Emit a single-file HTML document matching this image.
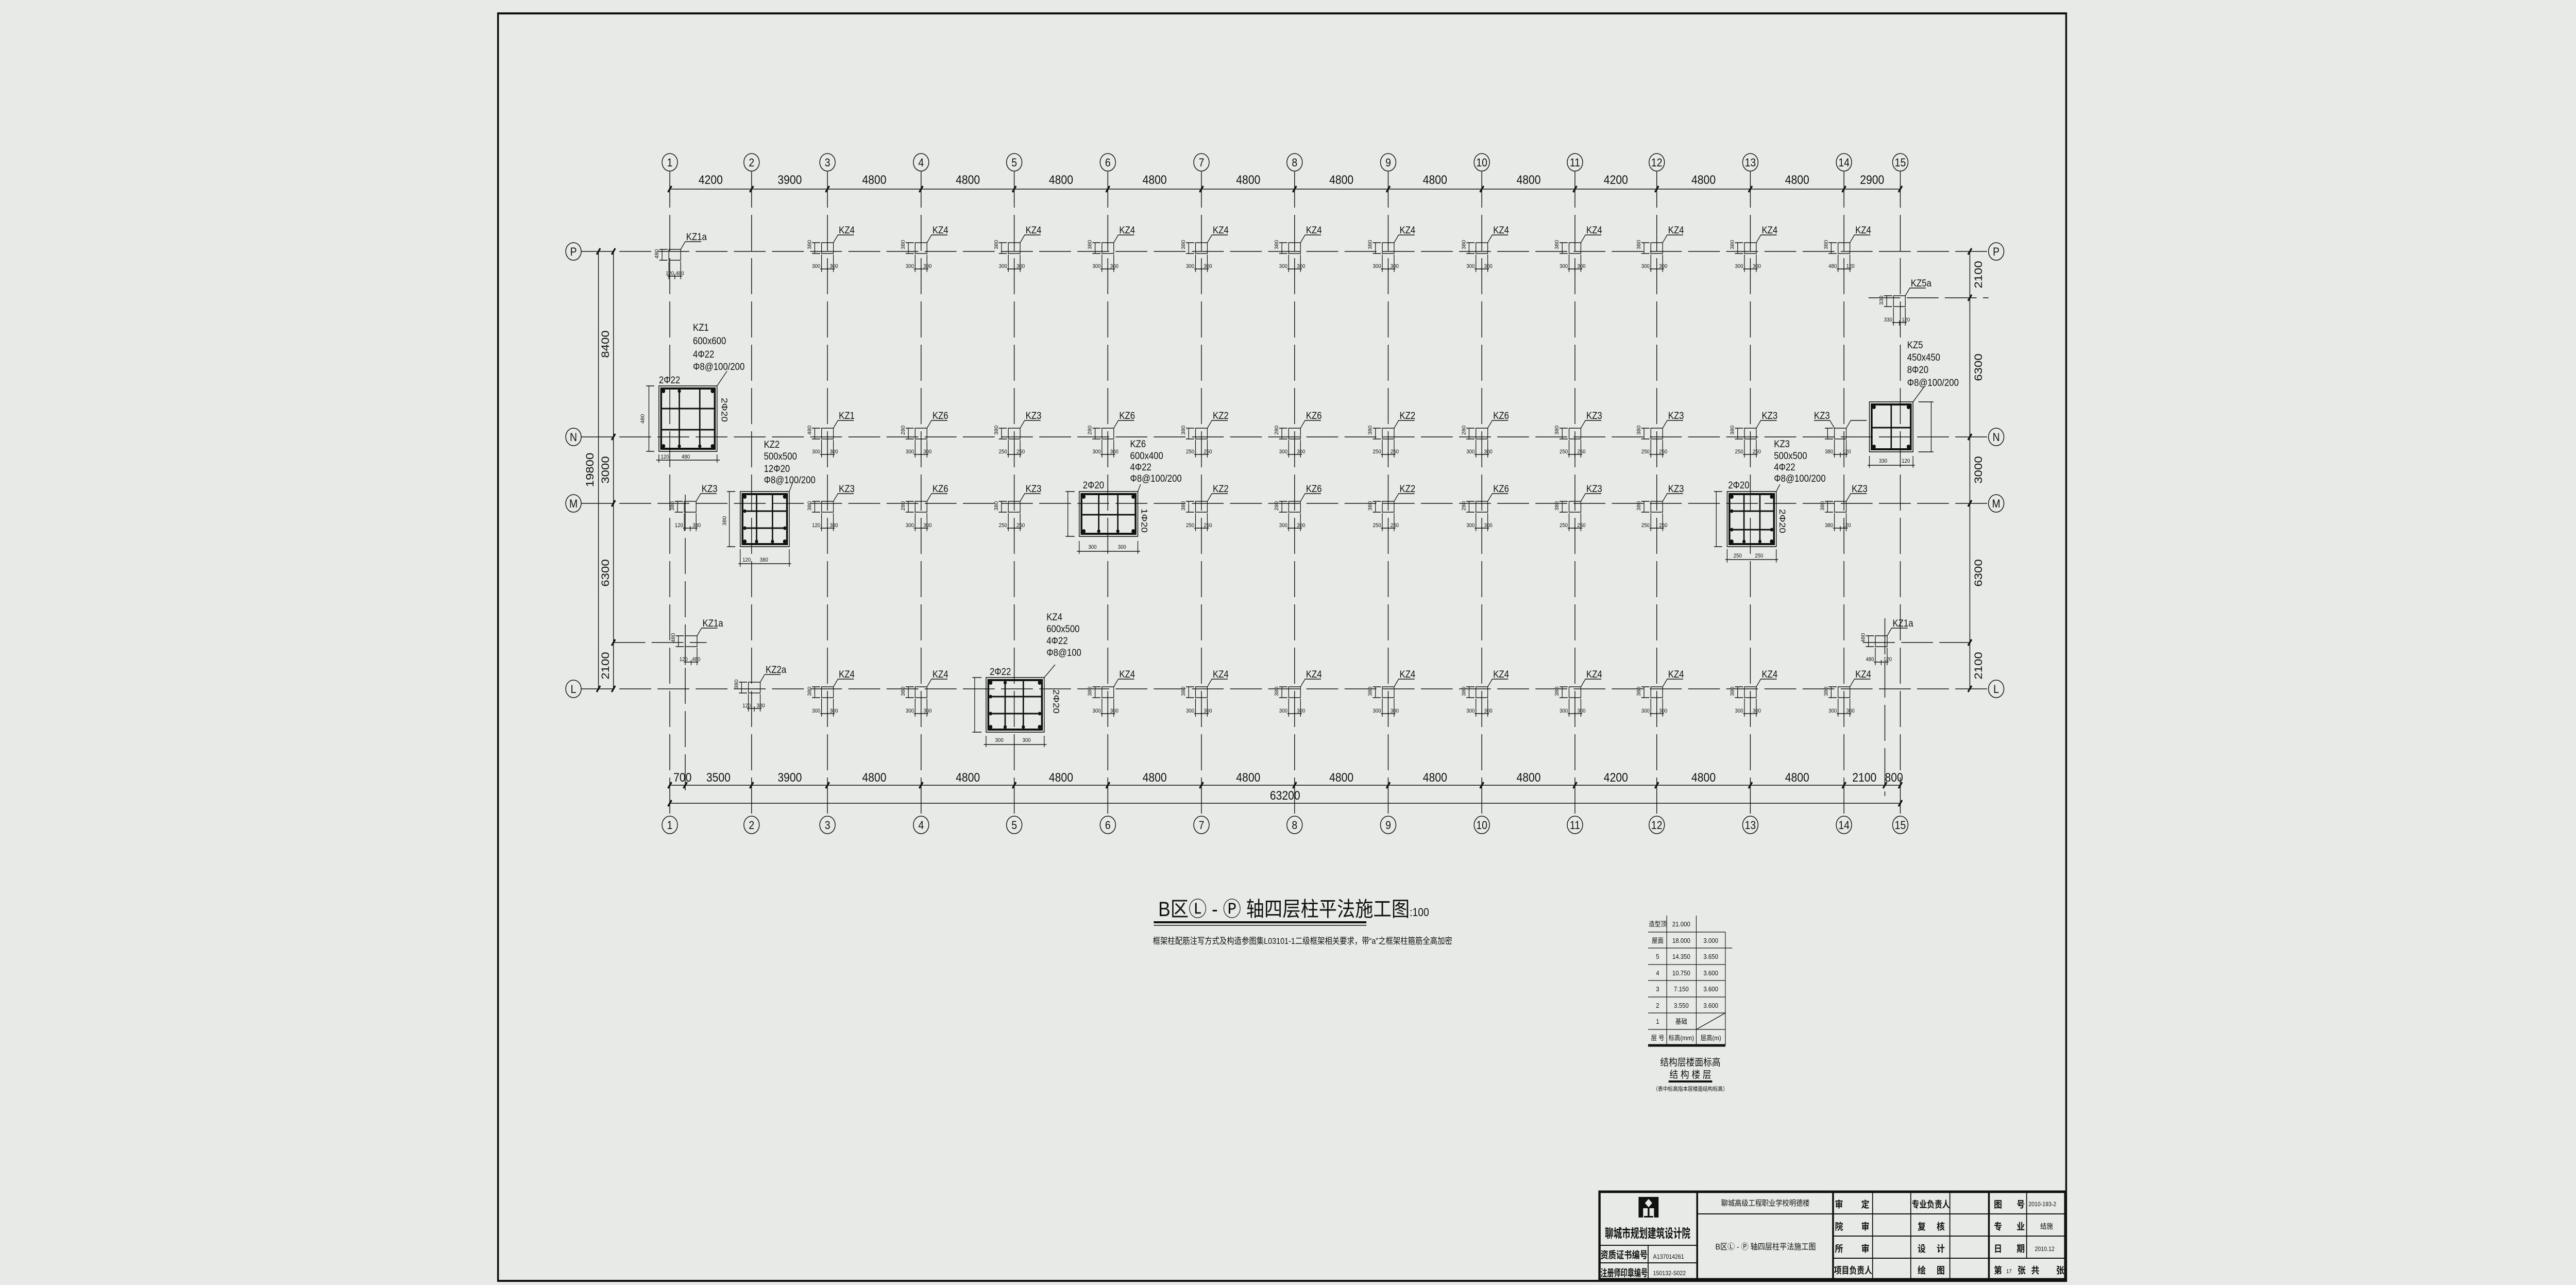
<!DOCTYPE html>
<html><head><meta charset="utf-8"><style>
html,body{margin:0;padding:0;background:#e8eae7;width:100%;height:100%;overflow:hidden;}
svg{display:block;position:absolute;left:0;top:0;width:100vw;height:100vh;}
text{font-family:"Liberation Sans","Noto Sans CJK SC",sans-serif;fill:#111;}
.l{font-size:19px;}
.d{font-size:11px;}
.dm{font-size:24px;}
.bb{font-size:22px;text-anchor:middle;}
.c{font-weight:bold;}
</style></head><body>
<svg viewBox="0 0 5669 2494" preserveAspectRatio="none" xmlns="http://www.w3.org/2000/svg">
<defs>
<g id="tk"><line x1="-4" y1="6" x2="4" y2="-6" stroke="#111" stroke-width="3.5"/></g>
<g id="su" fill="none" stroke="#111" stroke-width="1.4">
<rect x="-13" y="-17" width="26" height="21"/>
<path d="M13,-17 L23,-32 H58"/>
<path d="M-28,-17 V4 M-34,-17 H-16 M-34,4 H-16 M-13,6 V40 M13,6 V40 M0,30 V40 M-16,34 H16"/>
</g>
<g id="sd" fill="none" stroke="#111" stroke-width="1.4">
<rect x="-13" y="-4" width="26" height="21"/>
<path d="M13,-4 L23,-19 H58"/>
<path d="M-28,-4 V17 M-34,-4 H-16 M-34,17 H-16 M-13,19 V54 M13,19 V54 M0,44 V54 M-16,48 H16"/>
</g>
</defs>
<rect x="0" y="0" width="5669" height="2494" fill="#e8eae7"/>
<rect x="1096" y="26" width="3451" height="2460" fill="none" stroke="#111" stroke-width="4"/>

<g stroke="#111" stroke-width="1.6" stroke-dasharray="70 14">
<line x1="1474" y1="333" x2="1474" y2="1584"/><line x1="1654" y1="333" x2="1654" y2="1584"/>
<line x1="1821" y1="333" x2="1821" y2="1584"/><line x1="2027" y1="333" x2="2027" y2="1584"/>
<line x1="2232" y1="333" x2="2232" y2="1584"/><line x1="2438" y1="333" x2="2438" y2="1584"/>
<line x1="2644" y1="333" x2="2644" y2="1584"/><line x1="2849" y1="333" x2="2849" y2="1584"/>
<line x1="3055" y1="333" x2="3055" y2="1584"/><line x1="3261" y1="333" x2="3261" y2="1584"/>
<line x1="3466" y1="333" x2="3466" y2="1584"/><line x1="3646" y1="333" x2="3646" y2="1584"/>
<line x1="3852" y1="333" x2="3852" y2="1584"/><line x1="4058" y1="333" x2="4058" y2="1584"/>
<line x1="4182" y1="333" x2="4182" y2="1584"/>
<line x1="1508" y1="960" x2="1508" y2="1545"/><line x1="4148" y1="1200" x2="4148" y2="1545"/>
<line x1="1279" y1="488" x2="4376" y2="488"/><line x1="1279" y1="848" x2="4376" y2="848"/>
<line x1="1279" y1="977" x2="4376" y2="977"/><line x1="1279" y1="1337" x2="4376" y2="1337"/>
<line x1="4112" y1="578" x2="4376" y2="578"/>
<line x1="1350" y1="1247" x2="1555" y2="1247"/><line x1="4100" y1="1247" x2="4335" y2="1247"/>
</g>

<g fill="none" stroke="#111" stroke-width="1.6">
<circle cx="1474" cy="315" r="17"/><circle cx="1654" cy="315" r="17"/><circle cx="1821" cy="315" r="17"/><circle cx="2027" cy="315" r="17"/><circle cx="2232" cy="315" r="17"/><circle cx="2438" cy="315" r="17"/><circle cx="2644" cy="315" r="17"/><circle cx="2849" cy="315" r="17"/><circle cx="3055" cy="315" r="17"/><circle cx="3261" cy="315" r="17"/><circle cx="3466" cy="315" r="17"/><circle cx="3646" cy="315" r="17"/><circle cx="3852" cy="315" r="17"/><circle cx="4058" cy="315" r="17"/><circle cx="4182" cy="315" r="17"/>
<circle cx="1474" cy="1601" r="17"/><circle cx="1654" cy="1601" r="17"/><circle cx="1821" cy="1601" r="17"/><circle cx="2027" cy="1601" r="17"/><circle cx="2232" cy="1601" r="17"/><circle cx="2438" cy="1601" r="17"/><circle cx="2644" cy="1601" r="17"/><circle cx="2849" cy="1601" r="17"/><circle cx="3055" cy="1601" r="17"/><circle cx="3261" cy="1601" r="17"/><circle cx="3466" cy="1601" r="17"/><circle cx="3646" cy="1601" r="17"/><circle cx="3852" cy="1601" r="17"/><circle cx="4058" cy="1601" r="17"/><circle cx="4182" cy="1601" r="17"/>
<circle cx="1262" cy="488" r="17"/><circle cx="1262" cy="848" r="17"/><circle cx="1262" cy="977" r="17"/><circle cx="1262" cy="1337" r="17"/>
<circle cx="4393" cy="488" r="17"/><circle cx="4393" cy="848" r="17"/><circle cx="4393" cy="977" r="17"/><circle cx="4393" cy="1337" r="17"/>
</g>
<g>
<text class="bb" x="1474" y="323">1</text><text class="bb" x="1654" y="323">2</text><text class="bb" x="1821" y="323">3</text><text class="bb" x="2027" y="323">4</text><text class="bb" x="2232" y="323">5</text><text class="bb" x="2438" y="323">6</text><text class="bb" x="2644" y="323">7</text><text class="bb" x="2849" y="323">8</text><text class="bb" x="3055" y="323">9</text><text class="bb" x="3261" y="323">10</text><text class="bb" x="3466" y="323">11</text><text class="bb" x="3646" y="323">12</text><text class="bb" x="3852" y="323">13</text><text class="bb" x="4058" y="323">14</text><text class="bb" x="4182" y="323">15</text>
<text class="bb" x="1474" y="1609">1</text><text class="bb" x="1654" y="1609">2</text><text class="bb" x="1821" y="1609">3</text><text class="bb" x="2027" y="1609">4</text><text class="bb" x="2232" y="1609">5</text><text class="bb" x="2438" y="1609">6</text><text class="bb" x="2644" y="1609">7</text><text class="bb" x="2849" y="1609">8</text><text class="bb" x="3055" y="1609">9</text><text class="bb" x="3261" y="1609">10</text><text class="bb" x="3466" y="1609">11</text><text class="bb" x="3646" y="1609">12</text><text class="bb" x="3852" y="1609">13</text><text class="bb" x="4058" y="1609">14</text><text class="bb" x="4182" y="1609">15</text>
<text class="bb" x="1262" y="496">P</text><text class="bb" x="1262" y="856">N</text><text class="bb" x="1262" y="985">M</text><text class="bb" x="1262" y="1345">L</text>
<text class="bb" x="4393" y="496">P</text><text class="bb" x="4393" y="856">N</text><text class="bb" x="4393" y="985">M</text><text class="bb" x="4393" y="1345">L</text>
</g>

<g stroke="#111" stroke-width="1.6">
<line x1="1474" y1="367" x2="4182" y2="367"/>
<line x1="1474" y1="1524" x2="4182" y2="1524"/>
<line x1="1474" y1="1559" x2="4182" y2="1559"/>
<line x1="1317" y1="488" x2="1317" y2="1337"/>
<line x1="1350" y1="488" x2="1350" y2="1337"/>
<line x1="4335" y1="488" x2="4335" y2="1337"/>
</g>
<g>
<use href="#tk" x="1474" y="367"/><use href="#tk" x="1654" y="367"/><use href="#tk" x="1821" y="367"/><use href="#tk" x="2027" y="367"/><use href="#tk" x="2232" y="367"/><use href="#tk" x="2438" y="367"/><use href="#tk" x="2644" y="367"/><use href="#tk" x="2849" y="367"/><use href="#tk" x="3055" y="367"/><use href="#tk" x="3261" y="367"/><use href="#tk" x="3466" y="367"/><use href="#tk" x="3646" y="367"/><use href="#tk" x="3852" y="367"/><use href="#tk" x="4058" y="367"/><use href="#tk" x="4182" y="367"/>
<use href="#tk" x="1474" y="1524"/><use href="#tk" x="1508" y="1524"/><use href="#tk" x="1654" y="1524"/><use href="#tk" x="1821" y="1524"/><use href="#tk" x="2027" y="1524"/><use href="#tk" x="2232" y="1524"/><use href="#tk" x="2438" y="1524"/><use href="#tk" x="2644" y="1524"/><use href="#tk" x="2849" y="1524"/><use href="#tk" x="3055" y="1524"/><use href="#tk" x="3261" y="1524"/><use href="#tk" x="3466" y="1524"/><use href="#tk" x="3646" y="1524"/><use href="#tk" x="3852" y="1524"/><use href="#tk" x="4058" y="1524"/><use href="#tk" x="4148" y="1524"/><use href="#tk" x="4182" y="1524"/>
<use href="#tk" x="1474" y="1559"/><use href="#tk" x="4182" y="1559"/>
<use href="#tk" x="1317" y="488"/><use href="#tk" x="1317" y="1337"/>
<use href="#tk" x="1350" y="488"/><use href="#tk" x="1350" y="848"/><use href="#tk" x="1350" y="977"/><use href="#tk" x="1350" y="1247"/><use href="#tk" x="1350" y="1337"/>
<use href="#tk" x="4335" y="488"/><use href="#tk" x="4335" y="578"/><use href="#tk" x="4335" y="848"/><use href="#tk" x="4335" y="977"/><use href="#tk" x="4335" y="1247"/><use href="#tk" x="4335" y="1337"/>
</g>
<g class="dm" text-anchor="middle">
<text x="1564" y="357">4200</text><text x="1738" y="357">3900</text><text x="1924" y="357">4800</text><text x="2130" y="357">4800</text><text x="2335" y="357">4800</text><text x="2541" y="357">4800</text><text x="2747" y="357">4800</text><text x="2952" y="357">4800</text><text x="3158" y="357">4800</text><text x="3364" y="357">4800</text><text x="3556" y="357">4200</text><text x="3749" y="357">4800</text><text x="3955" y="357">4800</text><text x="4120" y="357">2900</text>
<text x="1502" y="1517">700</text><text x="1581" y="1517">3500</text><text x="1738" y="1517">3900</text><text x="1924" y="1517">4800</text><text x="2130" y="1517">4800</text><text x="2335" y="1517">4800</text><text x="2541" y="1517">4800</text><text x="2747" y="1517">4800</text><text x="2952" y="1517">4800</text><text x="3158" y="1517">4800</text><text x="3364" y="1517">4800</text><text x="3556" y="1517">4200</text><text x="3749" y="1517">4800</text><text x="3955" y="1517">4800</text><text x="4103" y="1517">2100</text><text x="4168" y="1517">800</text>
<text x="2828" y="1552">63200</text>
<text transform="translate(1306,912) rotate(-90)">19800</text>
<text transform="translate(1340,668) rotate(-90)">8400</text>
<text transform="translate(1340,912) rotate(-90)">3000</text>
<text transform="translate(1340,1112) rotate(-90)">6300</text>
<text transform="translate(1340,1292) rotate(-90)">2100</text>
<text transform="translate(4362,533) rotate(-90)">2100</text>
<text transform="translate(4362,713) rotate(-90)">6300</text>
<text transform="translate(4362,912) rotate(-90)">3000</text>
<text transform="translate(4362,1112) rotate(-90)">6300</text>
<text transform="translate(4362,1292) rotate(-90)">2100</text>
</g>

<g transform="translate(1821,488)"><use href="#su"/><text class="l" x="25" y="-35">KZ4</text><text class="d" x="-34" y="32">300</text><text class="d" x="5" y="32">300</text><text class="d" transform="translate(-36,-4) rotate(-90)">380</text></g>
<g transform="translate(2027,488)"><use href="#su"/><text class="l" x="25" y="-35">KZ4</text><text class="d" x="-34" y="32">300</text><text class="d" x="5" y="32">300</text><text class="d" transform="translate(-36,-4) rotate(-90)">380</text></g>
<g transform="translate(2232,488)"><use href="#su"/><text class="l" x="25" y="-35">KZ4</text><text class="d" x="-34" y="32">300</text><text class="d" x="5" y="32">300</text><text class="d" transform="translate(-36,-4) rotate(-90)">380</text></g>
<g transform="translate(2438,488)"><use href="#su"/><text class="l" x="25" y="-35">KZ4</text><text class="d" x="-34" y="32">300</text><text class="d" x="5" y="32">300</text><text class="d" transform="translate(-36,-4) rotate(-90)">380</text></g>
<g transform="translate(2644,488)"><use href="#su"/><text class="l" x="25" y="-35">KZ4</text><text class="d" x="-34" y="32">300</text><text class="d" x="5" y="32">300</text><text class="d" transform="translate(-36,-4) rotate(-90)">380</text></g>
<g transform="translate(2849,488)"><use href="#su"/><text class="l" x="25" y="-35">KZ4</text><text class="d" x="-34" y="32">300</text><text class="d" x="5" y="32">300</text><text class="d" transform="translate(-36,-4) rotate(-90)">380</text></g>
<g transform="translate(3055,488)"><use href="#su"/><text class="l" x="25" y="-35">KZ4</text><text class="d" x="-34" y="32">300</text><text class="d" x="5" y="32">300</text><text class="d" transform="translate(-36,-4) rotate(-90)">380</text></g>
<g transform="translate(3261,488)"><use href="#su"/><text class="l" x="25" y="-35">KZ4</text><text class="d" x="-34" y="32">300</text><text class="d" x="5" y="32">300</text><text class="d" transform="translate(-36,-4) rotate(-90)">380</text></g>
<g transform="translate(3466,488)"><use href="#su"/><text class="l" x="25" y="-35">KZ4</text><text class="d" x="-34" y="32">300</text><text class="d" x="5" y="32">300</text><text class="d" transform="translate(-36,-4) rotate(-90)">380</text></g>
<g transform="translate(3646,488)"><use href="#su"/><text class="l" x="25" y="-35">KZ4</text><text class="d" x="-34" y="32">300</text><text class="d" x="5" y="32">300</text><text class="d" transform="translate(-36,-4) rotate(-90)">380</text></g>
<g transform="translate(3852,488)"><use href="#su"/><text class="l" x="25" y="-35">KZ4</text><text class="d" x="-34" y="32">300</text><text class="d" x="5" y="32">300</text><text class="d" transform="translate(-36,-4) rotate(-90)">380</text></g>
<g transform="translate(4058,488)"><use href="#su"/><text class="l" x="25" y="-35">KZ4</text><text class="d" x="-34" y="32">480</text><text class="d" x="5" y="32">120</text><text class="d" transform="translate(-36,-4) rotate(-90)">380</text></g>
<g transform="translate(1485,488)"><use href="#sd"/><text class="l" x="25" y="-22">KZ1a</text><text class="d" x="-20" y="46">120</text><text class="d" x="2" y="46">480</text><text class="d" transform="translate(-36,14) rotate(-90)">480</text></g>
<g transform="translate(4180,578)"><use href="#sd"/><text class="l" x="25" y="-22">KZ5a</text><text class="d" x="-34" y="46">330</text><text class="d" x="5" y="46">120</text><text class="d" transform="translate(-36,14) rotate(-90)">330</text></g>

<g transform="translate(1821,848)"><use href="#su"/><text class="l" x="25" y="-35">KZ1</text><text class="d" x="-34" y="32">300</text><text class="d" x="5" y="32">300</text><text class="d" transform="translate(-36,-4) rotate(-90)">480</text></g>
<g transform="translate(2027,848)"><use href="#su"/><text class="l" x="25" y="-35">KZ6</text><text class="d" x="-34" y="32">300</text><text class="d" x="5" y="32">300</text><text class="d" transform="translate(-36,-4) rotate(-90)">280</text></g>
<g transform="translate(2232,848)"><use href="#su"/><text class="l" x="25" y="-35">KZ3</text><text class="d" x="-34" y="32">250</text><text class="d" x="5" y="32">250</text><text class="d" transform="translate(-36,-4) rotate(-90)">380</text></g>
<g transform="translate(2438,848)"><use href="#su"/><text class="l" x="25" y="-35">KZ6</text><text class="d" x="-34" y="32">300</text><text class="d" x="5" y="32">300</text><text class="d" transform="translate(-36,-4) rotate(-90)">280</text></g>
<g transform="translate(2644,848)"><use href="#su"/><text class="l" x="25" y="-35">KZ2</text><text class="d" x="-34" y="32">250</text><text class="d" x="5" y="32">250</text><text class="d" transform="translate(-36,-4) rotate(-90)">380</text></g>
<g transform="translate(2849,848)"><use href="#su"/><text class="l" x="25" y="-35">KZ6</text><text class="d" x="-34" y="32">300</text><text class="d" x="5" y="32">300</text><text class="d" transform="translate(-36,-4) rotate(-90)">280</text></g>
<g transform="translate(3055,848)"><use href="#su"/><text class="l" x="25" y="-35">KZ2</text><text class="d" x="-34" y="32">250</text><text class="d" x="5" y="32">250</text><text class="d" transform="translate(-36,-4) rotate(-90)">380</text></g>
<g transform="translate(3261,848)"><use href="#su"/><text class="l" x="25" y="-35">KZ6</text><text class="d" x="-34" y="32">300</text><text class="d" x="5" y="32">300</text><text class="d" transform="translate(-36,-4) rotate(-90)">280</text></g>
<g transform="translate(3466,848)"><use href="#su"/><text class="l" x="25" y="-35">KZ3</text><text class="d" x="-34" y="32">250</text><text class="d" x="5" y="32">250</text><text class="d" transform="translate(-36,-4) rotate(-90)">380</text></g>
<g transform="translate(3646,848)"><use href="#su"/><text class="l" x="25" y="-35">KZ3</text><text class="d" x="-34" y="32">250</text><text class="d" x="5" y="32">250</text><text class="d" transform="translate(-36,-4) rotate(-90)">380</text></g>
<g transform="translate(3852,848)"><use href="#su"/><text class="l" x="25" y="-35">KZ3</text><text class="d" x="-34" y="32">250</text><text class="d" x="5" y="32">250</text><text class="d" transform="translate(-36,-4) rotate(-90)">380</text></g>
<g transform="translate(4050,848)"><use href="#su"/><path d="M-13,-17 L-23,-32 H-58" fill="none" stroke="#111" stroke-width="1.4"/><text class="l" x="-58" y="-35">KZ3</text><text class="d" x="-34" y="32">380</text><text class="d" x="5" y="32">120</text></g>

<g transform="translate(1519,977)"><use href="#sd"/><text class="l" x="25" y="-22">KZ3</text><text class="d" x="-34" y="46">120</text><text class="d" x="5" y="46">380</text><text class="d" transform="translate(-36,14) rotate(-90)">380</text></g>
<g transform="translate(1821,977)"><use href="#sd"/><text class="l" x="25" y="-22">KZ3</text><text class="d" x="-34" y="46">120</text><text class="d" x="5" y="46">380</text><text class="d" transform="translate(-36,14) rotate(-90)">380</text></g>
<g transform="translate(2027,977)"><use href="#sd"/><text class="l" x="25" y="-22">KZ6</text><text class="d" x="-34" y="46">300</text><text class="d" x="5" y="46">300</text><text class="d" transform="translate(-36,14) rotate(-90)">280</text></g>
<g transform="translate(2232,977)"><use href="#sd"/><text class="l" x="25" y="-22">KZ3</text><text class="d" x="-34" y="46">250</text><text class="d" x="5" y="46">250</text><text class="d" transform="translate(-36,14) rotate(-90)">380</text></g>
<g transform="translate(2644,977)"><use href="#sd"/><text class="l" x="25" y="-22">KZ2</text><text class="d" x="-34" y="46">250</text><text class="d" x="5" y="46">250</text><text class="d" transform="translate(-36,14) rotate(-90)">380</text></g>
<g transform="translate(2849,977)"><use href="#sd"/><text class="l" x="25" y="-22">KZ6</text><text class="d" x="-34" y="46">300</text><text class="d" x="5" y="46">300</text><text class="d" transform="translate(-36,14) rotate(-90)">280</text></g>
<g transform="translate(3055,977)"><use href="#sd"/><text class="l" x="25" y="-22">KZ2</text><text class="d" x="-34" y="46">250</text><text class="d" x="5" y="46">250</text><text class="d" transform="translate(-36,14) rotate(-90)">380</text></g>
<g transform="translate(3261,977)"><use href="#sd"/><text class="l" x="25" y="-22">KZ6</text><text class="d" x="-34" y="46">300</text><text class="d" x="5" y="46">300</text><text class="d" transform="translate(-36,14) rotate(-90)">280</text></g>
<g transform="translate(3466,977)"><use href="#sd"/><text class="l" x="25" y="-22">KZ3</text><text class="d" x="-34" y="46">250</text><text class="d" x="5" y="46">250</text><text class="d" transform="translate(-36,14) rotate(-90)">380</text></g>
<g transform="translate(3646,977)"><use href="#sd"/><text class="l" x="25" y="-22">KZ3</text><text class="d" x="-34" y="46">250</text><text class="d" x="5" y="46">250</text><text class="d" transform="translate(-36,14) rotate(-90)">380</text></g>
<g transform="translate(4050,977)"><use href="#sd"/><text class="l" x="25" y="-22">KZ3</text><text class="d" x="-34" y="46">380</text><text class="d" x="5" y="46">120</text><text class="d" transform="translate(-36,14) rotate(-90)">380</text></g>

<g transform="translate(1521,1251)"><use href="#su"/><text class="l" x="25" y="-35">KZ1a</text><text class="d" x="-26" y="32">120</text><text class="d" x="2" y="32">480</text><text class="d" transform="translate(-36,-4) rotate(-90)">480</text></g>
<g transform="translate(4140,1251)"><use href="#su"/><text class="l" x="25" y="-35">KZ1a</text><text class="d" x="-34" y="32">480</text><text class="d" x="5" y="32">120</text><text class="d" transform="translate(-36,-4) rotate(-90)">480</text></g>

<g transform="translate(1660,1341)"><use href="#su"/><text class="l" x="25" y="-35">KZ2a</text><text class="d" x="-26" y="32">120</text><text class="d" x="5" y="32">380</text><text class="d" transform="translate(-36,-4) rotate(-90)">380</text></g>
<g transform="translate(1821,1337)"><use href="#sd"/><text class="l" x="25" y="-22">KZ4</text><text class="d" x="-34" y="46">300</text><text class="d" x="5" y="46">300</text><text class="d" transform="translate(-36,14) rotate(-90)">380</text></g>
<g transform="translate(2027,1337)"><use href="#sd"/><text class="l" x="25" y="-22">KZ4</text><text class="d" x="-34" y="46">300</text><text class="d" x="5" y="46">300</text><text class="d" transform="translate(-36,14) rotate(-90)">380</text></g>
<g transform="translate(2438,1337)"><use href="#sd"/><text class="l" x="25" y="-22">KZ4</text><text class="d" x="-34" y="46">300</text><text class="d" x="5" y="46">300</text><text class="d" transform="translate(-36,14) rotate(-90)">380</text></g>
<g transform="translate(2644,1337)"><use href="#sd"/><text class="l" x="25" y="-22">KZ4</text><text class="d" x="-34" y="46">300</text><text class="d" x="5" y="46">300</text><text class="d" transform="translate(-36,14) rotate(-90)">380</text></g>
<g transform="translate(2849,1337)"><use href="#sd"/><text class="l" x="25" y="-22">KZ4</text><text class="d" x="-34" y="46">300</text><text class="d" x="5" y="46">300</text><text class="d" transform="translate(-36,14) rotate(-90)">380</text></g>
<g transform="translate(3055,1337)"><use href="#sd"/><text class="l" x="25" y="-22">KZ4</text><text class="d" x="-34" y="46">300</text><text class="d" x="5" y="46">300</text><text class="d" transform="translate(-36,14) rotate(-90)">380</text></g>
<g transform="translate(3261,1337)"><use href="#sd"/><text class="l" x="25" y="-22">KZ4</text><text class="d" x="-34" y="46">300</text><text class="d" x="5" y="46">300</text><text class="d" transform="translate(-36,14) rotate(-90)">380</text></g>
<g transform="translate(3466,1337)"><use href="#sd"/><text class="l" x="25" y="-22">KZ4</text><text class="d" x="-34" y="46">300</text><text class="d" x="5" y="46">300</text><text class="d" transform="translate(-36,14) rotate(-90)">380</text></g>
<g transform="translate(3646,1337)"><use href="#sd"/><text class="l" x="25" y="-22">KZ4</text><text class="d" x="-34" y="46">300</text><text class="d" x="5" y="46">300</text><text class="d" transform="translate(-36,14) rotate(-90)">380</text></g>
<g transform="translate(3852,1337)"><use href="#sd"/><text class="l" x="25" y="-22">KZ4</text><text class="d" x="-34" y="46">300</text><text class="d" x="5" y="46">300</text><text class="d" transform="translate(-36,14) rotate(-90)">380</text></g>
<g transform="translate(4058,1337)"><use href="#sd"/><text class="l" x="25" y="-22">KZ4</text><text class="d" x="-34" y="46">300</text><text class="d" x="5" y="46">300</text><text class="d" transform="translate(-36,14) rotate(-90)">380</text></g>

<g fill="none" stroke="#111">
<rect x="1450" y="749" width="128" height="127" stroke-width="1.6"/>
<rect x="1455" y="754" width="118" height="117" stroke-width="4"/>
<path d="M1495,754V871 M1540,754V871 M1455,793H1573 M1455,834H1573" stroke-width="3"/>
<path d="M1578,749 L1600,720 M1422,749H1440 M1422,876H1440 M1428,749V876 M1450,882V898 M1578,882V898 M1444,893H1584" stroke-width="1.4"/>
<rect x="1629" y="954" width="108" height="107" stroke-width="1.6"/>
<rect x="1634" y="959" width="98" height="97" stroke-width="4"/>
<path d="M1665,959V1056 M1700,959V1056 M1634,992H1732 M1634,1025H1732" stroke-width="3"/>
<path d="M1737,954 L1745,935 M1600,954H1618 M1600,1061H1618 M1605,954V1061 M1629,1066V1100 M1737,1066V1100 M1625,1094H1741" stroke-width="1.4"/>
<rect x="2375" y="954" width="129" height="87" stroke-width="1.6"/>
<rect x="2380" y="959" width="119" height="77" stroke-width="4"/>
<path d="M2418,959V1036 M2460,959V1036 M2380,999H2499" stroke-width="3"/>
<path d="M2504,954 L2510,940 M2345,954H2365 M2345,1041H2365 M2350,954V1041 M2375,1050V1075 M2504,1050V1075 M2370,1070H2509" stroke-width="1.4"/>
<rect x="2170" y="1315" width="128" height="106" stroke-width="1.6"/>
<rect x="2175" y="1320" width="118" height="96" stroke-width="4"/>
<path d="M2212,1320V1416 M2252,1320V1416 M2175,1352H2293 M2175,1385H2293" stroke-width="3"/>
<path d="M2298,1315 L2322,1290 M2140,1315H2160 M2140,1421H2160 M2145,1315V1421 M2170,1428V1450 M2298,1428V1450 M2165,1445H2303" stroke-width="1.4"/>
<rect x="3801" y="954" width="108" height="107" stroke-width="1.6"/>
<rect x="3806" y="959" width="98" height="97" stroke-width="4"/>
<path d="M3838,959V1056 M3873,959V1056 M3806,992H3904 M3806,1028H3904" stroke-width="3"/>
<path d="M3909,954 L3917,940 M3772,954H3790 M3772,1061H3790 M3777,954V1061 M3801,1066V1092 M3909,1066V1092 M3797,1086H3913" stroke-width="1.4"/>
<rect x="4114" y="780" width="96" height="97" stroke-width="1.6"/>
<rect x="4119" y="785" width="86" height="87" stroke-width="4"/>
<path d="M4162,785V872 M4119,830H4205" stroke-width="3"/>
<path d="M4210,780 L4235,750 M4222,780H4255 M4222,877H4255 M4250,780V877 M4114,885V908 M4210,885V908 M4110,903H4214" stroke-width="1.4"/>
</g>
<g fill="#111">
<circle cx="1460" cy="759" r="4"/><circle cx="1568" cy="759" r="4"/><circle cx="1460" cy="866" r="4"/><circle cx="1568" cy="866" r="4"/><circle cx="1495" cy="866" r="3.5"/><circle cx="1540" cy="866" r="3.5"/><circle cx="1495" cy="759" r="3.5"/>
<circle cx="1639" cy="964" r="4"/><circle cx="1727" cy="964" r="4"/><circle cx="1639" cy="1051" r="4"/><circle cx="1727" cy="1051" r="4"/><circle cx="1665" cy="1051" r="3.5"/><circle cx="1700" cy="1051" r="3.5"/><circle cx="1639" cy="992" r="3.5"/><circle cx="1639" cy="1025" r="3.5"/><circle cx="1727" cy="1025" r="3.5"/>
<circle cx="2385" cy="964" r="4"/><circle cx="2494" cy="964" r="4"/><circle cx="2385" cy="1031" r="4"/><circle cx="2494" cy="1031" r="4"/><circle cx="2418" cy="1031" r="3.5"/><circle cx="2460" cy="1031" r="3.5"/>
<circle cx="2180" cy="1325" r="4"/><circle cx="2288" cy="1325" r="4"/><circle cx="2180" cy="1411" r="4"/><circle cx="2288" cy="1411" r="4"/><circle cx="2212" cy="1411" r="3.5"/><circle cx="2252" cy="1411" r="3.5"/><circle cx="2212" cy="1325" r="3.5"/><circle cx="2180" cy="1352" r="3.5"/><circle cx="2180" cy="1385" r="3.5"/><circle cx="2288" cy="1385" r="3.5"/>
<circle cx="3811" cy="964" r="4"/><circle cx="3899" cy="964" r="4"/><circle cx="3811" cy="1051" r="4"/><circle cx="3899" cy="1051" r="4"/><circle cx="3838" cy="1051" r="3.5"/><circle cx="3873" cy="1051" r="3.5"/><circle cx="3811" cy="992" r="3.5"/><circle cx="3811" cy="1028" r="3.5"/><circle cx="3899" cy="1028" r="3.5"/>
<circle cx="4124" cy="790" r="4"/><circle cx="4200" cy="790" r="4"/><circle cx="4124" cy="867" r="4"/><circle cx="4200" cy="867" r="4"/>
</g>
<g class="l">
<text x="1525" y="642">KZ1</text><text x="1525" y="668">600x600</text><text x="1525" y="694">4Φ22</text><text x="1525" y="718">Φ8@100/200</text>
<text x="1450" y="744">2Φ22</text><text transform="translate(1588,772) rotate(90)">2Φ20</text>
<text class="d" transform="translate(1418,822) rotate(-90)">480</text><text class="d" x="1454" y="890">120</text><text class="d" x="1500" y="890">480</text>
<text x="1681" y="869">KZ2</text><text x="1681" y="892">500x500</text><text x="1681" y="916">12Φ20</text><text x="1681" y="938">Φ8@100/200</text>
<text class="d" x="1634" y="1090">120</text><text class="d" x="1672" y="1090">380</text><text class="d" transform="translate(1598,1020) rotate(-90)">380</text>
<text x="2487" y="868">KZ6</text><text x="2487" y="891">600x400</text><text x="2487" y="913">4Φ22</text><text x="2487" y="935">Φ8@100/200</text>
<text x="2383" y="948">2Φ20</text><text transform="translate(2512,987) rotate(90)">1Φ20</text>
<text class="d" x="2395" y="1065">300</text><text class="d" x="2460" y="1065">300</text>
<text x="2303" y="1204">KZ4</text><text x="2303" y="1227">600x500</text><text x="2303" y="1250">4Φ22</text><text x="2303" y="1273">Φ8@100</text>
<text x="2178" y="1310">2Φ22</text><text transform="translate(2318,1338) rotate(90)">2Φ20</text>
<text class="d" x="2190" y="1440">300</text><text class="d" x="2250" y="1440">300</text>
<text x="3904" y="868">KZ3</text><text x="3904" y="891">500x500</text><text x="3904" y="913">4Φ22</text><text x="3904" y="935">Φ8@100/200</text>
<text x="3803" y="948">2Φ20</text><text transform="translate(3916,988) rotate(90)">2Φ20</text>
<text class="d" x="3815" y="1082">250</text><text class="d" x="3862" y="1082">250</text>
<text x="4197" y="676">KZ5</text><text x="4197" y="700">450x450</text><text x="4197" y="724">8Φ20</text><text x="4197" y="749">Φ8@100/200</text>
<text class="d" x="4135" y="898">330</text><text class="d" x="4185" y="898">120</text>
</g>

<text x="2549" y="1778" font-size="40">B区Ⓛ - Ⓟ  轴四层柱平法施工图<tspan font-size="22">:100</tspan></text>
<line x1="2539" y1="1790" x2="3007" y2="1790" stroke="#111" stroke-width="4"/>
<line x1="2539" y1="1796" x2="3007" y2="1796" stroke="#111" stroke-width="1.5"/>
<text x="2537" y="1832" font-size="17" textLength="659" lengthAdjust="spacingAndGlyphs">框架柱配筋注写方式及构造参图集L03101-1二级框架相关要求，带“a”之框架柱箍筋全高加密</text>

<g stroke="#111" stroke-width="1.3" fill="none">
<path d="M3668,1777V2029 M3733,1777V2029 M3797,1809V2029"/>
<path d="M3627,1809H3797 M3627,1840H3812 M3627,1872H3797 M3627,1903H3797 M3627,1935H3797 M3627,1966H3797 M3627,1998H3797 M3733,1998 L3797,1966"/>
<line x1="3627" y1="2029" x2="3797" y2="2029" stroke-width="5"/>
<line x1="3672" y1="2099" x2="3768" y2="2099" stroke-width="4"/>
</g>
<g font-size="13" text-anchor="middle">
<text x="3648" y="1798">造型顶</text><text x="3700" y="1798">21.000</text>
<text x="3648" y="1830">屋面</text><text x="3700" y="1830">18.000</text><text x="3765" y="1830">3.000</text>
<text x="3648" y="1861">5</text><text x="3700" y="1861">14.350</text><text x="3765" y="1861">3.650</text>
<text x="3648" y="1893">4</text><text x="3700" y="1893">10.750</text><text x="3765" y="1893">3.600</text>
<text x="3648" y="1924">3</text><text x="3700" y="1924">7.150</text><text x="3765" y="1924">3.600</text>
<text x="3648" y="1956">2</text><text x="3700" y="1956">3.550</text><text x="3765" y="1956">3.600</text>
<text x="3648" y="1987">1</text><text x="3700" y="1987">基础</text>
<text x="3648" y="2019">层 号</text><text x="3700" y="2019">标高(mm)</text><text x="3765" y="2019">层高(m)</text>
<text x="3720" y="2068" font-size="19">结构层楼面标高</text>
<text x="3720" y="2092" font-size="19">结 构 楼 层</text>
<text x="3720" y="2117" font-size="11">（表中标高指本层楼面结构标高）</text>
</g>

<g stroke="#111" fill="none">
<rect x="3520" y="2313" width="1025" height="170" stroke-width="5"/>
<path d="M3735,2313V2483 M4034,2313V2483 M4377,2313V2483" stroke-width="4"/>
<path d="M3520,2417H3735 M3520,2451H3735 M3627,2417V2483 M3735,2356H4034 M4034,2356H4545 M4034,2399H4545 M4034,2442H4545 M4121,2313V2483 M4205,2313V2483 M4291,2313V2483 M4460,2313V2442" stroke-width="2"/>
</g>
<path d="M3606,2323H3650V2363H3640V2345H3616V2363H3606Z" fill="#111"/>
<path d="M3628,2327 L3636,2335 L3628,2343 L3620,2335Z" fill="#e8eae7"/>
<path d="M3626,2345H3630V2360H3638V2363H3618V2360H3626Z" fill="#111"/>
<g class="c">
<text x="3532" y="2402" font-size="24" textLength="188" lengthAdjust="spacingAndGlyphs">聊城市规划建筑设计院</text>
<text x="3522" y="2442" font-size="19" textLength="104" lengthAdjust="spacingAndGlyphs">资质证书编号</text>
<text x="3522" y="2477" font-size="19" textLength="104" lengthAdjust="spacingAndGlyphs">注册师印章编号</text>
<text x="4038" y="2344" font-size="18">审</text><text x="4096" y="2344" font-size="18">定</text>
<text x="4038" y="2387" font-size="18">院</text><text x="4096" y="2387" font-size="18">审</text>
<text x="4038" y="2430" font-size="18">所</text><text x="4096" y="2430" font-size="18">审</text>
<text x="4036" y="2472" font-size="18" textLength="84" lengthAdjust="spacingAndGlyphs">项目负责人</text>
<text x="4207" y="2344" font-size="18" textLength="84" lengthAdjust="spacingAndGlyphs">专业负责人</text>
<text x="4220" y="2387" font-size="18">复</text><text x="4262" y="2387" font-size="18">核</text>
<text x="4220" y="2430" font-size="18">设</text><text x="4262" y="2430" font-size="18">计</text>
<text x="4220" y="2472" font-size="18">绘</text><text x="4262" y="2472" font-size="18">图</text>
<text x="4388" y="2344" font-size="18">图</text><text x="4438" y="2344" font-size="18">号</text>
<text x="4388" y="2387" font-size="18">专</text><text x="4438" y="2387" font-size="18">业</text>
<text x="4388" y="2430" font-size="18">日</text><text x="4438" y="2430" font-size="18">期</text>
<text x="4388" y="2472" font-size="18">第</text><text x="4440" y="2472" font-size="18">张</text><text x="4470" y="2472" font-size="18">共</text><text x="4525" y="2472" font-size="18">张</text>
</g>
<text x="3638" y="2443" font-size="12">A137014261</text>
<text x="3638" y="2475" font-size="12">150132-S022</text>
<text x="3885" y="2340" font-size="15" text-anchor="middle">聊城高级工程职业学校明德楼</text>
<text x="3775" y="2425" font-size="16">B区Ⓛ - Ⓟ   轴四层柱平法施工图</text>
<text x="4464" y="2341" font-size="12">2010-193-2</text>
<text x="4490" y="2385" font-size="14">结施</text>
<text x="4478" y="2428" font-size="12">2010.12</text>
<text x="4415" y="2471" font-size="11">17</text>
</svg>
</body></html>
